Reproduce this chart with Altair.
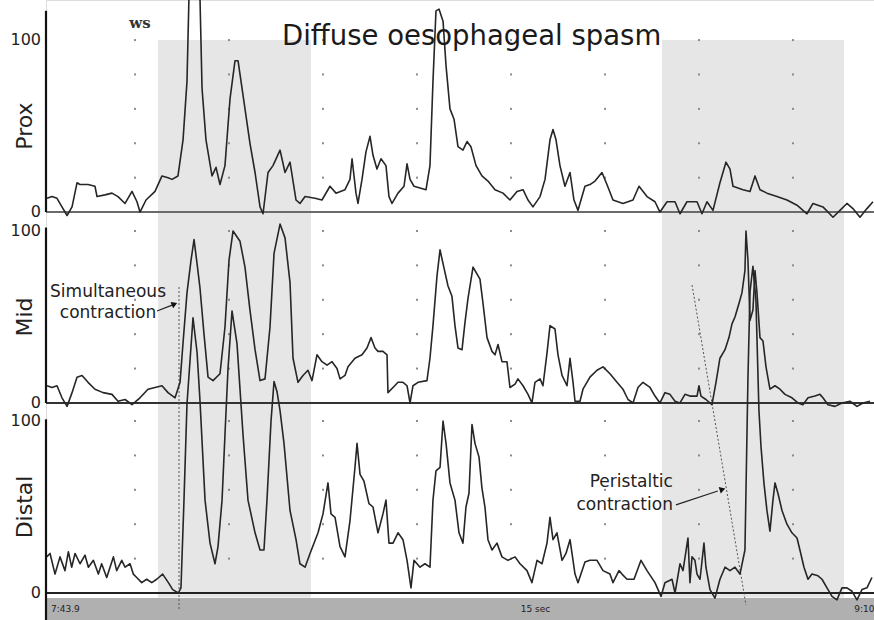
import altair as alt
import pandas as pd

# ---------------- data (time in s, pressure in mmHg) ----------------
prox_t = [0.64,1.17,1.70,2.23,2.77,3.30,3.83,4.15,5.00,5.74,5.96,6.81,7.55,8.19,8.94,9.68,10.21,10.53,11.17,12.13,
          12.87,13.51,13.94,14.57,15.11,15.53,15.74,16.28,16.91,17.13,17.55,18.19,18.62,19.04,19.57,20.11,20.64,20.96,
          21.49,22.23,22.77,23.30,23.62,24.15,24.68,25.43,25.96,26.49,27.13,27.55,28.09,29.15,29.89,30.74,31.38,32.34,
          32.87,33.09,33.51,33.72,34.15,34.57,35.00,35.32,35.74,36.17,36.70,37.02,37.34,37.98,38.62,38.94,39.26,39.68,
          40.32,40.96,41.38,41.70,42.02,42.34,42.77,43.09,43.51,43.94,44.36,44.89,45.32,45.74,46.28,46.91,47.55,48.30,
          49.15,49.89,50.64,51.28,51.81,52.34,53.09,53.62,54.15,54.47,54.79,55.21,55.74,56.28,56.70,57.13,57.87,58.40,
          58.94,59.68,60.21,60.85,61.91,62.98,63.62,64.47,65.32,65.85,66.60,67.45,67.98,68.72,69.79,70.32,70.85,71.49,
          72.23,72.87,73.30,73.62,74.68,75.43,75.96,76.49,77.23,78.30,79.36,80.43,81.49,82.13,83.19,84.26,85.00,85.74,
          86.38,87.13,87.87,88.51]
prox_v = [8,9,8,3,-2,3,17,16,16,15,9,10,11,9,5,12,6,0,7,12,
          21,20,19,21,42,76,125,160,125,72,42,21,26,16,27,66,88,88,
          68,40,23,3,-1,23,27,36,23,29,7,5,9,8,7,15,11,13,
          19,31,11,5,19,35,44,33,25,31,27,9,5,11,15,28,19,15,
          14,13,27,76,117,118,111,85,60,54,38,36,41,38,27,21,18,13,
          11,7,12,13,7,3,9,19,42,48,42,27,15,23,7,1,15,16,
          18,23,16,7,5,7,15,9,6,0,6,6,-1,6,6,-1,6,1,
          17,29,25,15,13,12,21,13,11,9,7,4,-1,5,3,-3,1,5,
          2,-3,2,6]

mid_t = [0.64,1.17,1.70,2.23,2.77,3.30,3.83,4.36,5.00,5.74,6.60,7.55,8.19,8.94,9.68,10.53,11.38,12.13,12.87,13.51,
         14.26,14.79,15.11,15.53,15.96,16.28,16.60,16.91,17.34,17.77,18.30,19.04,19.57,20.00,20.43,21.17,21.70,22.23,
         22.77,23.30,23.83,24.36,24.79,25.43,25.96,26.49,26.81,27.34,27.87,28.40,28.83,29.36,29.89,30.43,30.96,31.49,
         31.81,32.34,32.66,33.40,34.15,34.68,35.11,35.53,35.85,36.38,36.81,36.91,37.45,37.98,38.51,38.94,39.26,39.57,
         40.11,41.06,41.38,41.70,42.13,42.45,42.77,43.30,43.72,44.04,44.36,44.79,45.11,45.43,45.96,46.38,46.70,47.02,
         47.45,47.98,48.30,48.62,49.04,49.57,49.89,50.43,50.74,51.28,51.81,52.23,52.55,53.09,53.40,53.83,54.15,54.68,
         55.00,55.43,55.96,56.28,56.60,56.81,57.34,57.66,58.40,59.15,59.79,60.53,61.28,61.91,62.45,62.98,63.51,64.04,
         64.79,65.32,65.85,66.38,66.91,67.45,67.98,68.51,69.04,69.79,70.00,70.21,70.74,71.38,71.81,72.23,72.77,73.19,
         73.51,73.83,74.26,74.57,74.89,75.00,75.21,75.43,75.74,75.96,76.17,76.49,76.81,77.13,77.55,78.09,78.62,79.15,
         79.89,80.53,81.06,81.60,82.34,82.87,83.19,83.72,84.47,85.21,86.06,86.81,87.45,88.19]
mid_v = [10,9,10,3,-2,6,15,16,12,8,6,5,1,2,-1,3,8,9,10,6,
         3,12,35,64,83,95,81,67,40,15,13,17,44,83,100,94,79,54,
         31,13,14,44,87,104,96,70,26,12,16,19,13,28,24,22,24,20,
         14,16,21,26,28,32,38,32,30,30,28,6,9,12,12,10,0,10,
         12,13,26,45,74,89,81,68,62,45,32,31,47,61,79,75,72,58,
         38,30,28,34,24,24,9,11,14,10,5,0,12,14,10,29,45,43,
         28,16,10,26,12,1,1,8,15,19,21,17,12,8,2,0,9,12,
         9,4,0,6,5,1,0,5,4,4,10,4,2,-1,12,26,31,38,
         46,50,58,64,77,100,83,48,54,77,64,38,36,21,8,10,8,5,
         3,0,-1,3,4,5,3,-1,-2,0,1,-2,0,1]

distal_t = [0.60,0.96,1.49,2.02,2.55,2.91,3.26,3.62,4.15,4.68,5.04,5.57,6.10,6.45,6.99,7.70,8.05,8.59,8.94,9.47,
            9.82,10.18,10.71,11.24,11.78,12.31,12.94,13.55,14.01,14.61,14.89,15.21,15.53,16.17,16.60,16.91,17.45,17.98,
            18.51,18.83,19.26,19.57,19.89,20.32,20.85,21.49,22.02,22.77,23.30,23.72,24.04,24.47,24.79,25.11,25.43,25.85,
            26.49,27.13,27.55,28.09,28.62,29.47,30.00,30.53,30.85,31.28,31.81,32.34,32.87,33.40,33.62,33.94,34.36,34.89,
            35.32,35.85,36.38,36.70,37.02,37.45,37.98,38.51,38.94,39.36,39.68,40.32,40.85,41.38,41.70,42.02,42.45,42.77,
            43.09,43.51,44.04,44.47,44.89,45.21,45.53,45.85,46.17,46.60,46.91,47.23,47.55,47.98,48.51,49.04,49.68,50.43,
            50.96,51.70,52.23,52.77,53.30,53.83,54.15,54.47,54.89,55.43,55.85,56.28,56.81,57.13,57.87,58.40,59.15,59.79,
            60.53,60.85,61.49,61.81,62.34,63.09,63.83,64.47,65.32,65.96,66.38,67.13,67.45,67.98,68.30,68.83,69.04,69.26,
            69.57,69.79,70.11,70.53,70.74,71.17,71.70,72.23,72.77,73.30,73.83,74.36,74.89,75.21,75.43,75.74,76.06,76.38,
            76.60,76.91,77.23,77.55,77.87,78.09,78.40,78.83,79.36,79.89,80.43,80.74,81.17,81.60,82.02,82.66,83.09,83.62,
            84.15,84.68,85.21,85.74,86.28,86.81,87.34,87.87,88.40]
distal_v = [21,23,11,21,13,24,15,23,17,22,15,19,11,17,9,21,13,19,15,17,
            11,9,6,8,6,8,11,6,2,0,3,54,110,160,140,112,54,29,
            17,27,54,92,130,164,145,92,54,35,25,25,54,100,123,117,106,87,
            48,31,17,15,23,35,46,64,46,44,27,21,42,73,87,69,65,52,
            50,35,46,54,29,29,35,31,19,3,19,15,17,15,54,71,73,100,
            87,64,54,35,29,50,58,98,87,79,61,50,31,25,29,21,19,21,
            17,13,6,19,17,29,44,31,35,19,23,31,11,6,18,19,19,13,
            11,6,13,11,8,8,19,13,6,-2,6,8,0,17,13,32,6,21,
            19,11,8,29,15,2,-3,8,15,13,15,11,25,125,175,190,170,106,
            85,64,48,36,54,64,58,48,40,35,32,25,15,8,11,10,8,3,
            -2,-4,3,3,1,-4,2,3,9]

channels = ["Prox", "Mid", "Distal"]
offsets = [221.5, 110.5, 0.0]          # vertical stacking of the three recordings
shade_start = [12.45, 66.06]
shade_end = [28.72, 85.43]
grid_times = [10, 20, 30, 40, 50, 60, 70, 80]
grid_levels = [20, 40, 60, 80, 100]
axis_low = [0, 0, -16]
axis_high = [117, 102, 101]

T0, T1 = 0.53, 88.62
G0, G1 = -15.7, 344.8

# ---------------- tables ----------------
rows = []
for name, off, ts, vs in zip(channels, offsets, [prox_t, mid_t, distal_t], [prox_v, mid_v, distal_v]):
    for t, v in zip(ts, vs):
        rows.append({"channel": name, "t": t, "g": v + off})
traces = pd.DataFrame(rows)

shade = pd.DataFrame({"t": shade_start, "t2": shade_end,
                      "g": [-2.6, -2.6], "g2": [offsets[0] + 100, offsets[0] + 100]})

grid = pd.DataFrame([{"t": t, "g": lv + off} for off in offsets for t in grid_times for lv in grid_levels])

base = pd.DataFrame({"t": [T0] * 3, "t2": [T1] * 3, "g": offsets,
                     "col": ["#6a6a6a", "#333333", "#222222"]})

axes = pd.DataFrame({"g": [lo + off for lo, off in zip(axis_low, offsets)],
                     "g2": [hi + off for hi, off in zip(axis_high, offsets)]})

ticklab = pd.DataFrame({"g": [off + v for off in offsets for v in (0, 100)],
                        "lab": ["0", "100"] * 3})

titles = pd.DataFrame({"g": [off + 50 for off in offsets], "lab": channels})

xs = alt.X("t:Q", scale=alt.Scale(domain=[T0, T1], nice=False, zero=False), axis=None)
ys = alt.Y("g:Q", scale=alt.Scale(domain=[G0, G1], nice=False, zero=False), axis=None)

shade_l = alt.Chart(shade).mark_rect(color="#e6e6e6").encode(
    x=xs, x2="t2:Q", y=ys, y2="g2:Q")

strip = alt.Chart(pd.DataFrame({"t": [T0], "t2": [T1], "g": [-2.9], "g2": [G0]})).mark_rect(
    color="#b0b0b0").encode(x=xs, x2="t2:Q", y=ys, y2="g2:Q")

strip_txt = alt.Chart(pd.DataFrame({"t": [2.6, 52.6, 87.6], "g": [-9.5, -9.5, -9.5],
                                    "lab": ["7:43.9", "15 sec", "9:10"]})).mark_text(
    fontSize=9, font="DejaVu Sans", color="#222222").encode(x=xs, y=ys, text="lab:N")

grid_l = alt.Chart(grid).mark_square(size=4, color="#808080", opacity=0.9).encode(x=xs, y=ys)

base_l = alt.Chart(base).mark_rule(strokeWidth=2).encode(
    x=xs, x2="t2:Q", y=ys, color=alt.Color("col:N", scale=None))

axis_l = alt.Chart(axes).mark_rule(strokeWidth=2.2, color="#111111").encode(
    x=alt.value(0), y=ys, y2="g2:Q")

tick_l = alt.Chart(ticklab).mark_text(align="right", baseline="middle", fontSize=16,
                                      font="DejaVu Sans", color="#222222").encode(
    x=alt.value(-5), y=ys, text="lab:N")

ttl_l = alt.Chart(titles).mark_text(angle=270, baseline="middle", align="center", fontSize=22,
                                    font="DejaVu Sans", color="#222222").encode(
    x=alt.value(-21), y=ys, text="lab:N")

line_l = alt.Chart(traces).mark_line(strokeWidth=1.6, color="#262626", clip=True,
                                     strokeJoin="round").encode(
    x=xs, y=ys, detail="channel:N", order="t:Q")

dotted = pd.DataFrame({"t": [14.68, 69.26], "g": [177.9, 179.1], "t2": [14.68, 75.0], "g2": [-9.9, -7.0]})
dotted_l = alt.Chart(dotted).mark_rule(strokeDash=[2, 2], strokeWidth=1, color="#555555").encode(
    x=xs, y=ys, x2="t2:Q", y2="g2:Q")

arrows = pd.DataFrame({"t": [12.34, 67.55], "g": [164.0, 51.2], "t2": [13.95, 72.0], "g2": [167.4, 59.3]})
arrow_l = alt.Chart(arrows).mark_rule(strokeWidth=1.2, color="#222222").encode(
    x=xs, y=ys, x2="t2:Q", y2="g2:Q")
heads = pd.DataFrame({"t": [14.2, 72.5], "g": [168.0, 60.3], "ang": [337, 342]})
head_l = alt.Chart(heads).mark_point(shape="triangle-right", filled=True, size=45,
                                     color="#111111", opacity=1).encode(
    x=xs, y=ys, angle=alt.Angle("ang:Q", scale=None))

notes = pd.DataFrame({
    "t": [7.13, 7.13, 67.23, 67.23, 10.53],
    "g": [175.0, 162.8, 64.5, 51.2, 331.4],
    "lab": ["Simultaneous", "contraction", "Peristaltic", "contraction", "ws"],
    "al": ["center", "center", "right", "right", "center"],
})
note_c = alt.Chart(notes[notes.al == "center"].iloc[:2]).mark_text(
    align="center", baseline="middle", fontSize=17, font="DejaVu Sans", color="#222222").encode(
    x=xs, y=ys, text="lab:N")
note_r = alt.Chart(notes[notes.al == "right"]).mark_text(
    align="right", baseline="middle", fontSize=17, font="DejaVu Sans", color="#222222").encode(
    x=xs, y=ys, text="lab:N")
ws_l = alt.Chart(notes.iloc[4:5]).mark_text(
    align="center", baseline="middle", fontSize=15, font="DejaVu Serif", fontWeight="bold",
    color="#333333").encode(x=xs, y=ys, text="lab:N")

main_title = alt.Chart(pd.DataFrame({"t": [25.64], "g": [318.6], "lab": ["Diffuse oesophageal spasm"]})).mark_text(
    align="left", baseline="alphabetic", fontSize=27.5, font="DejaVu Sans", color="#1a1a1a").encode(
    x=xs, y=ys, text="lab:N")

chart = alt.layer(
    shade_l, strip, strip_txt, grid_l, base_l, dotted_l, line_l, axis_l, tick_l, ttl_l,
    arrow_l, head_l, note_c, note_r, ws_l, main_title
).properties(
    width=828, height=620,
    padding={"left": 46, "top": 0, "right": 0, "bottom": 0},
    autosize=alt.AutoSizeParams(type="none"),
).configure_view(stroke=None).configure(background="white")

chart.save("out.html", embed_options={"renderer": "svg", "actions": False})
